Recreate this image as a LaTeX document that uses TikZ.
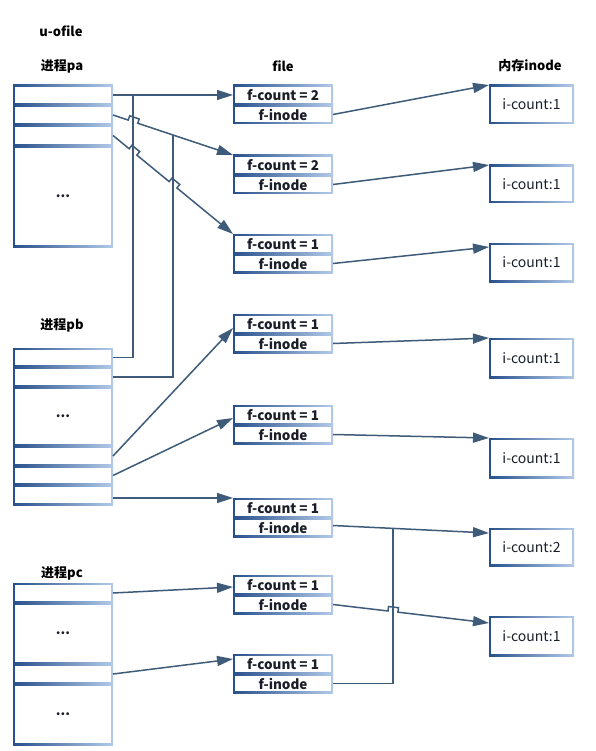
\documentclass[tikz,border=0pt]{standalone}
\usepackage{fontspec}
\setmainfont{Noto Sans CJK SC}
\usetikzlibrary{arrows.meta,calc}
\definecolor{lc}{RGB}{62,92,122}
\definecolor{bdark}{RGB}{40,80,140}
\definecolor{blight}{RGB}{178,202,232}
\definecolor{tc}{RGB}{25,30,40}
\tikzset{
  cell/.style={rectangle, inner sep=0pt, outer sep=0pt, text=tc,
    font=\fontsize{13.5}{15}\selectfont\bfseries,
    left color=bdark, right color=blight,
    path picture={\fill[white] ([shift={(1.6pt,-1.6pt)}]path picture bounding box.north west)
      rectangle ([shift={(-1.6pt,1.6pt)}]path picture bounding box.south east);}},
  inode/.style={cell, font=\fontsize{14}{16}\selectfont},
  hdr/.style={inner sep=0pt, text=black, font=\fontsize{13}{15}\selectfont\bfseries},
  wire/.style={draw=lc, line width=1.5pt, line join=miter},
  conn/.style={wire, -{Triangle[length=16pt,width=10pt]}}
}
\newcommand\mycell[7][cell]{\node[#1, minimum width={(#5-#3)*1pt}, minimum height={(#6-#4)*1pt}] (#2) at ({(#3+#5)/2},{(#4+#6)/2}) {#7};}
\newcommand\hopdef[4]{%
  \coordinate (#1va) at (#4,0);
  \coordinate (#1vb) at (#4,800);
  \coordinate (#1c) at (intersection of #2--#3 and #1va--#1vb);
  \coordinate (#1a) at ($(#1c)!5pt!(#2)$);
  \coordinate (#1b) at ($(#1c)!5pt!(#3)$);
  \coordinate (#1ap) at ($(#1a)!4.5pt!-90:(#2)$);
  \coordinate (#1bp) at ($(#1b)!4.5pt!90:(#3)$);
}
\begin{document}
\begin{tikzpicture}[x=1pt,y=-1pt]
\useasboundingbox[fill=white] (0,0) rectangle (595,751);
% headers
\node[hdr] (tu) at (61,31) {u-ofile};
\node[hdr] (tpa) at (62,66) {进程pa};
\node[hdr] (tfile) at (283,66) {file};
\node[hdr] (tinode) at (530,66) {内存inode};
\node[hdr] (tpb) at (62,325) {进程pb};
\node[hdr] (tpc) at (62,573) {进程pc};
% process pa
\mycell{pa1}{13}{85}{113}{105}{}
\mycell{pa2}{13}{105}{113}{125}{}
\mycell{pa3}{13}{125}{113}{146}{}
\mycell{pa4}{13}{146}{113}{247}{...}
% process pb
\mycell{pb1}{13}{348}{113}{367}{}
\mycell{pb2}{13}{367}{113}{387}{}
\mycell{pb3}{13}{387}{113}{446}{...}
\mycell{pb4}{13}{446}{113}{466}{}
\mycell{pb5}{13}{466}{113}{485}{}
\mycell{pb6}{13}{485}{113}{505}{}
% process pc
\mycell{pc1}{13}{583}{113}{603}{}
\mycell{pc2}{13}{603}{113}{664}{...}
\mycell{pc3}{13}{664}{113}{684}{}
\mycell{pc4}{13}{684}{113}{745}{...}
% file table
\mycell{f1c}{233}{85}{333}{105}{f-count = 2}
\mycell{f1i}{233}{105}{333}{124}{f-inode}
\mycell{f2c}{233}{155}{333}{175}{f-count = 2}
\mycell{f2i}{233}{175}{333}{194}{f-inode}
\mycell{f3c}{233}{234}{333}{254}{f-count = 1}
\mycell{f3i}{233}{254}{333}{273}{f-inode}
\mycell{f4c}{233}{314}{333}{334}{f-count = 1}
\mycell{f4i}{233}{334}{333}{353}{f-inode}
\mycell{f5c}{233}{405}{333}{425}{f-count = 1}
\mycell{f5i}{233}{425}{333}{444}{f-inode}
\mycell{f6c}{233}{498}{333}{518}{f-count = 1}
\mycell{f6i}{233}{518}{333}{537}{f-inode}
\mycell{f7c}{233}{575}{333}{595}{f-count = 1}
\mycell{f7i}{233}{595}{333}{614}{f-inode}
\mycell{f8c}{233}{654}{333}{674}{f-count = 1}
\mycell{f8i}{233}{674}{333}{693}{f-inode}
% inodes
\mycell[inode]{i1}{489}{85}{574}{124}{i-count:1}
\mycell[inode]{i2}{489}{165}{574}{203}{i-count:1}
\mycell[inode]{i3}{489}{243}{574}{282}{i-count:1}
\mycell[inode]{i4}{489}{338}{574}{378}{i-count:1}
\mycell[inode]{i5}{489}{438}{574}{478}{i-count:1}
\mycell[inode]{i6}{489}{528}{574}{566}{i-count:2}
\mycell[inode]{i7}{489}{616}{574}{656}{i-count:1}
% pa connectors
\coordinate (j1) at ($(pa1.east)+(20,0)$);
\draw[conn] (pa1.east) -- (f1c.west);
\coordinate (A2) at (pa2.east);
\coordinate (B2) at (f2c.north west);
\coordinate (A3) at (pa3.east);
\coordinate (B3) at (f3c.north west);
\hopdef{h21}{A2}{B2}{133}
\hopdef{h31}{A3}{B3}{133}
\hopdef{h32}{A3}{B3}{173}
\coordinate (j2) at (intersection of A2--B2 and h32va--h32vb);
\draw[conn] (A2) -- (h21a) -- (h21ap) -- (h21bp) -- (h21b) -- (B2);
\draw[conn] (A3) -- (h31a) -- (h31ap) -- (h31bp) -- (h31b) -- (h32a) -- (h32ap) -- (h32bp) -- (h32b) -- (B3);
% pb connectors
\draw[wire] (pb1.east) -| (j1);
\draw[wire] (pb2.east) -| (j2);
\draw[conn] (pb4.east) -- ([yshift=-4pt]f4c.west);
\draw[conn] (pb5.east) -- ([yshift=-3pt]f5c.west);
\draw[conn] ([yshift=-3pt]pb6.east) -- (f6c.north west);
% pc connectors
\draw[conn] (pc1.east) -- ([yshift=-2pt]f7c.west);
\draw[conn] (pc3.east) -- ([yshift=5pt]f8c.west);
% file -> inode
\draw[conn] (f1i.east) -- (i1.north west);
\draw[conn] (f2i.east) -- (i2.north west);
\draw[conn] (f3i.east) -- ([yshift=-4pt]i3.north west);
\draw[conn] (f4i.east) -- (i4.north west);
\draw[conn] (f5i.east) -- (i5.north west);
\coordinate (F6) at ([yshift=2pt]f6i.east);
\coordinate (I6) at ([yshift=-5pt]i6.north west);
\coordinate (F7) at (f7i.east);
\coordinate (I7) at ([yshift=-7pt]i7.north west);
\hopdef{h7}{F7}{I7}{393}
\coordinate (j3) at (intersection of F6--I6 and h7va--h7vb);
\draw[conn] (F6) -- (I6);
\draw[conn] (F7) -- (h7a) -- (h7ap) -- (h7bp) -- (h7b) -- (I7);
\draw[wire] (f8i.east) -| (j3);
\end{tikzpicture}
\end{document}
